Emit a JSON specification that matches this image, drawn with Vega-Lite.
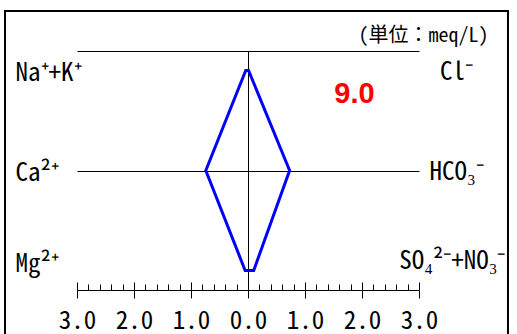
{
  "$schema": "https://vega.github.io/schema/vega-lite/v6.json",
  "width": 342,
  "height": 239,
  "autosize": {"type": "none"},
  "padding": {"left": 77, "top": 51, "right": 98, "bottom": 44},
  "background": "white",
  "config": {
    "view": {"stroke": null},
    "axis": {"domainColor": "black", "tickColor": "black", "gridColor": "black", "labelColor": "black", "titleColor": "black", "domainWidth": 1, "tickWidth": 1, "gridWidth": 1}
  },
  "datasets": {
    "ions": [
      {"side": "cation", "ion": "Na⁺+K⁺", "row": 0, "meq": -0.04, "order": 1},
      {"side": "cation", "ion": "Ca²⁺", "row": 1, "meq": -0.74, "order": 2},
      {"side": "cation", "ion": "Mg²⁺", "row": 2, "meq": -0.05, "order": 3},
      {"side": "anion", "ion": "SO₄²⁻+NO₃⁻", "row": 2, "meq": 0.1, "order": 4},
      {"side": "anion", "ion": "HCO₃⁻", "row": 1, "meq": 0.73, "order": 5},
      {"side": "anion", "ion": "Cl⁻", "row": 0, "meq": 0.01, "order": 6}
    ],
    "note": [{"label": "9.0"}]
  },
  "layer": [
    {
      "data": {"name": "note"},
      "mark": {"type": "rect", "fill": "transparent", "stroke": "black", "strokeWidth": 2},
      "encoding": {
        "x": {"datum": -4.263, "type": "quantitative", "axis": {"orient": "top", "values": [0], "domain": true, "ticks": false, "labels": false, "grid": true, "title": "(単位：meq/L)", "titleFont": "Noto Sans Mono CJK JP, Noto Sans CJK JP", "titleFontSize": 20, "titleFontWeight": "normal", "titleAlign": "right", "titleBaseline": "alphabetic", "titleAnchor": "end", "titleX": 411, "titleY": -10}},
        "x2": {"datum": 4.561},
        "y": {"datum": -0.595, "type": "quantitative", "axis": {"orient": "right", "values": [0, 1, 2], "domain": false, "ticks": false, "grid": true, "gridOpacity": {"condition": {"test": "datum.value === 1", "value": 1}, "value": 0}, "title": null, "labelExpr": "datum.value === 0 ? 'Cl⁻' : datum.value === 1 ? 'HCO₃⁻' : 'SO₄²⁻+NO₃⁻'", "labelAlign": {"condition": {"test": "datum.value === 2", "value": "right"}, "value": "center"}, "labelPadding": {"condition": {"test": "datum.value === 2", "value": 86}, "value": 37}, "labelBaseline": "alphabetic", "labelOffset": {"condition": {"test": "datum.value === 2", "value": -2}, "value": 9}, "labelFont": "Noto Sans Mono CJK JP, Noto Sans CJK JP", "labelFontSize": 25}},
        "y2": {"datum": 3.0}
      }
    },
    {
      "data": {"name": "ions"},
      "mark": {"type": "line", "interpolate": "linear-closed", "color": "#0000ff", "strokeWidth": 3},
      "encoding": {
        "x": {"field": "meq", "type": "quantitative", "scale": {"domain": [-3, 3], "nice": false, "zero": false}, "axis": {"orient": "bottom", "values": [-3, -2.8, -2.6, -2.4, -2.2, -2, -1.8, -1.6, -1.4, -1.2, -1, -0.8, -0.6, -0.4, -0.2, 0, 0.2, 0.4, 0.6, 0.8, 1, 1.2, 1.4, 1.6, 1.8, 2, 2.2, 2.4, 2.6, 2.8, 3], "domain": true, "ticks": true, "tickSize": {"condition": {"test": "abs(datum.value - round(datum.value)) < 0.001", "value": -8}, "value": -6}, "labels": false, "grid": false, "title": null}},
        "y": {"field": "row", "type": "quantitative", "scale": {"domain": [-0.195, 2.195], "nice": false, "zero": false, "reverse": true}, "axis": {"orient": "left", "values": [0, 1, 2], "domain": false, "ticks": false, "grid": false, "title": null, "labelExpr": "datum.value === 0 ? 'Na⁺+K⁺' : datum.value === 1 ? 'Ca²⁺' : 'Mg²⁺'", "labelAlign": "left", "labelBaseline": "alphabetic", "labelPadding": 62, "labelOffset": {"condition": {"test": "datum.value === 2", "value": 1}, "value": 10}, "labelFont": "Noto Sans Mono CJK JP, Noto Sans CJK JP", "labelFontSize": 25}},
        "order": {"field": "order", "type": "quantitative"}
      }
    },
    {
      "data": {"name": "note"},
      "mark": {"type": "text", "color": "#ff0000", "font": "Liberation Sans", "fontSize": 29, "fontWeight": "bold", "align": "center", "baseline": "alphabetic"},
      "encoding": {
        "text": {"field": "label"},
        "x": {"datum": 1.868, "type": "quantitative", "axis": {"orient": "bottom", "values": [-3, -2, -1, 0, 1, 2, 3], "domain": false, "ticks": true, "tickSize": 8, "grid": false, "title": null, "labelExpr": "format(abs(datum.value), '.1f')", "labelFont": "Noto Sans Mono CJK JP, Noto Sans CJK JP", "labelFontSize": 25, "labelBaseline": "alphabetic", "labelPadding": 30, "labelFlush": false, "labelOverlap": false, "labelBound": false}},
        "y": {"datum": 0.328, "type": "quantitative", "axis": null}
      }
    }
  ],
  "resolve": {"axis": {"x": "independent", "y": "independent"}}
}
